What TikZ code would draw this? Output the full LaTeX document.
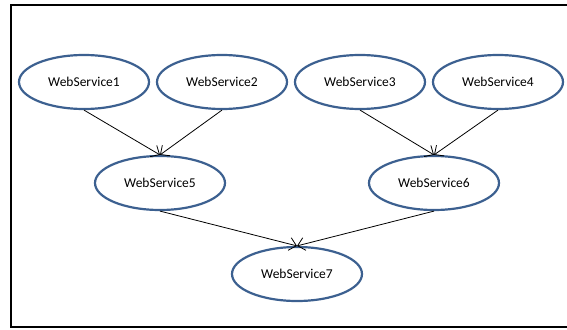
\documentclass[tikz,border=0pt]{standalone}
\usepackage{fontspec}
\setmainfont{Carlito}
\usetikzlibrary{arrows.meta,shapes.geometric}
\begin{document}
\begin{tikzpicture}[x=1pt,y=-1pt,
  svc/.style={ellipse,draw=svcblue,line width=2.2pt,minimum width=130pt,minimum height=54pt,
    inner sep=0pt,font=\fontsize{13.5}{16}\selectfont},
  link/.style={draw=black,line width=0.8pt,-{Straight Barb[length=7pt,width=13pt,line width=0.8pt]}}]
\definecolor{svcblue}{HTML}{3C6090}
\useasboundingbox (0,0) rectangle (567,329);
% outer frame (its right side lies beyond the visible area)
\draw[line width=2pt] (580,5) -- (11,5) -- (11,327) -- (580,327);
% services
\node[svc] (w1) at (84,82) {WebService1};
\node[svc] (w2) at (222,82) {WebService2};
\node[svc] (w3) at (360,82) {WebService3};
\node[svc] (w4) at (498,82) {WebService4};
\node[svc] (w5) at (160,183) {WebService5};
\node[svc] (w6) at (434,183) {WebService6};
\node[svc] (w7) at (297,274) {WebService7};
% call links
\draw[link] (w1.south) -- (w5.north);
\draw[link] (w2.south) -- (w5.north);
\draw[link] (w3.south) -- (w6.north);
\draw[link] (w4.south) -- (w6.north);
\draw[link] (w5.south) -- (w7.north);
\draw[link] (w6.south) -- (w7.north);
\end{tikzpicture}
\end{document}
